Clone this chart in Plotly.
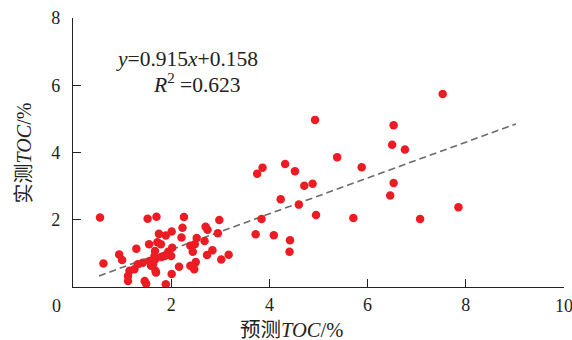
import plotly.graph_objects as go

# Predicted TOC (%) and measured TOC (%)
pred_toc = [7.53, 4.93, 6.53, 6.50, 6.76, 5.38, 4.32, 3.86, 3.75, 4.52, 5.88, 4.71, 4.88,
            6.53, 6.46, 4.23, 4.60, 3.84, 4.95, 5.71, 7.07, 7.85, 3.72, 4.09, 4.42, 4.41,
            0.55, 0.62, 1.52, 1.70, 2.26, 2.98, 1.75, 1.89, 2.01, 2.23, 2.70, 2.74, 2.95,
            2.21, 2.52, 2.68, 1.55, 1.72, 1.79, 1.29, 1.67, 1.94, 2.02, 2.39, 2.48, 2.44,
            2.73, 2.84, 3.17, 3.02, 0.94, 1.00, 2.50, 2.39, 2.47, 2.16, 2.01, 1.89,
            1.56, 1.63, 1.42, 1.32, 1.15, 1.25, 1.12, 1.12, 1.46, 1.49, 1.69,
            1.67, 1.80, 2.00, 1.59, 1.68, 1.87, 1.66]
meas_toc = [5.74, 4.97, 4.81, 4.23, 4.09, 3.86, 3.66, 3.55, 3.37, 3.44, 3.56, 3.01, 3.07,
            3.09, 2.72, 2.61, 2.45, 2.02, 2.14, 2.05, 2.02, 2.37, 1.57, 1.54, 1.39, 1.05,
            2.07, 0.70, 2.03, 2.09, 2.08, 1.99, 1.58, 1.53, 1.65, 1.76, 1.79, 1.70, 1.60,
            1.47, 1.46, 1.37, 1.27, 1.33, 1.27, 1.14, 1.07, 1.05, 1.17, 1.23, 1.27, 1.05,
            0.95, 1.09, 0.96, 0.82, 0.97, 0.80, 0.74, 0.63, 0.53, 0.60, 0.39, 0.08,
            0.77, 0.68, 0.72, 0.68, 0.48, 0.53, 0.33, 0.18, 0.18, 0.10, 0.43,
            0.82, 0.89, 0.92, 0.63, 0.48, 0.92, 0.92]

# Fitted trend line as drawn
fit_x = [0.53, 9.02]
fit_y = [0.33, 4.85]

x_ticks = [2, 4, 6, 8, 10]
x_tick_labels = ["2", "4", "6", "8", "10"]
y_ticks = [2, 4, 6, 8]

SERIF = "Liberation Serif, Noto Sans CJK SC, serif"
TXT = "#222"

fig = go.Figure()
fig.add_trace(go.Scatter(x=fit_x, y=fit_y, mode="lines",
                         line=dict(color="#6b6b6b", width=1.6, dash="7px,4px"),
                         hoverinfo="skip", showlegend=False))
fig.add_trace(go.Scatter(x=pred_toc, y=meas_toc, mode="markers",
                         marker=dict(color="#ED1C24", size=8.5, line=dict(width=0)),
                         showlegend=False))

# the last x tick label sits at the very edge, draw it as an annotation so it is not dropped
shown_x_labels = x_tick_labels[:-1] + [""]

annotations = [
    dict(text="0", xref="paper", yref="paper", x=-0.033, y=-0.071, xanchor="center",
         yanchor="middle", showarrow=False, font=dict(family=SERIF, size=18, color=TXT)),
    dict(text=x_tick_labels[-1], xref="x", yref="paper", x=x_ticks[-1], y=-0.071,
         xanchor="center", yanchor="middle", showarrow=False,
         font=dict(family=SERIF, size=18, color=TXT)),
    dict(text="<i>y</i>=0.915<i>x</i>+0.158", x=2.32, y=6.79, xref="x", yref="y",
         showarrow=False, font=dict(family=SERIF, size=21.5, color=TXT)),
    dict(text="<i>R</i><sup>2</sup> =0.623", x=2.52, y=6.04, xref="x", yref="y",
         showarrow=False, font=dict(family=SERIF, size=21.5, color=TXT)),
    dict(text="预测<i>TOC</i>/%", xref="paper", yref="paper", x=0.445, y=-0.16,
         xanchor="center", yanchor="middle", showarrow=False,
         font=dict(family=SERIF, size=20.5, color=TXT)),
    dict(text="实测<i>TOC</i>/%", xref="paper", yref="paper", x=-0.1, y=0.5,
         xanchor="center", yanchor="middle", textangle=-90, showarrow=False,
         font=dict(family=SERIF, size=20, color=TXT)),
]

fig.update_layout(
    width=572, height=340, autosize=False,
    margin=dict(l=73, r=8, t=16, b=53),
    plot_bgcolor="white", paper_bgcolor="white",
    font=dict(family=SERIF, size=18, color=TXT),
    xaxis=dict(range=[0, 10], tickvals=x_ticks, ticktext=shown_x_labels,
               showgrid=False, zeroline=False, showline=True, linecolor=TXT, linewidth=1.2,
               ticks="inside", ticklen=8, tickwidth=1.2, tickcolor=TXT,
               tickfont=dict(family=SERIF, size=18, color=TXT), ticklabelstandoff=1),
    yaxis=dict(range=[0, 8], tickvals=y_ticks, ticktext=[str(v) for v in y_ticks],
               showgrid=False, zeroline=False, showline=True, linecolor=TXT, linewidth=1.2,
               ticks="inside", ticklen=8, tickwidth=1.2, tickcolor=TXT,
               tickfont=dict(family=SERIF, size=18, color=TXT), ticklabelstandoff=8),
    annotations=annotations,
)

css = ("var s=document.documentElement.style;s.margin='0';s.padding='0';s.overflow='hidden';"
       "s.width='572px';s.height='340px';"
       "var b=document.body.style;b.margin='0';b.padding='0';b.overflow='hidden';"
       "b.width='572px';b.height='340px';")
fig.write_html("out.html", config={"displayModeBar": False}, post_script=css)
